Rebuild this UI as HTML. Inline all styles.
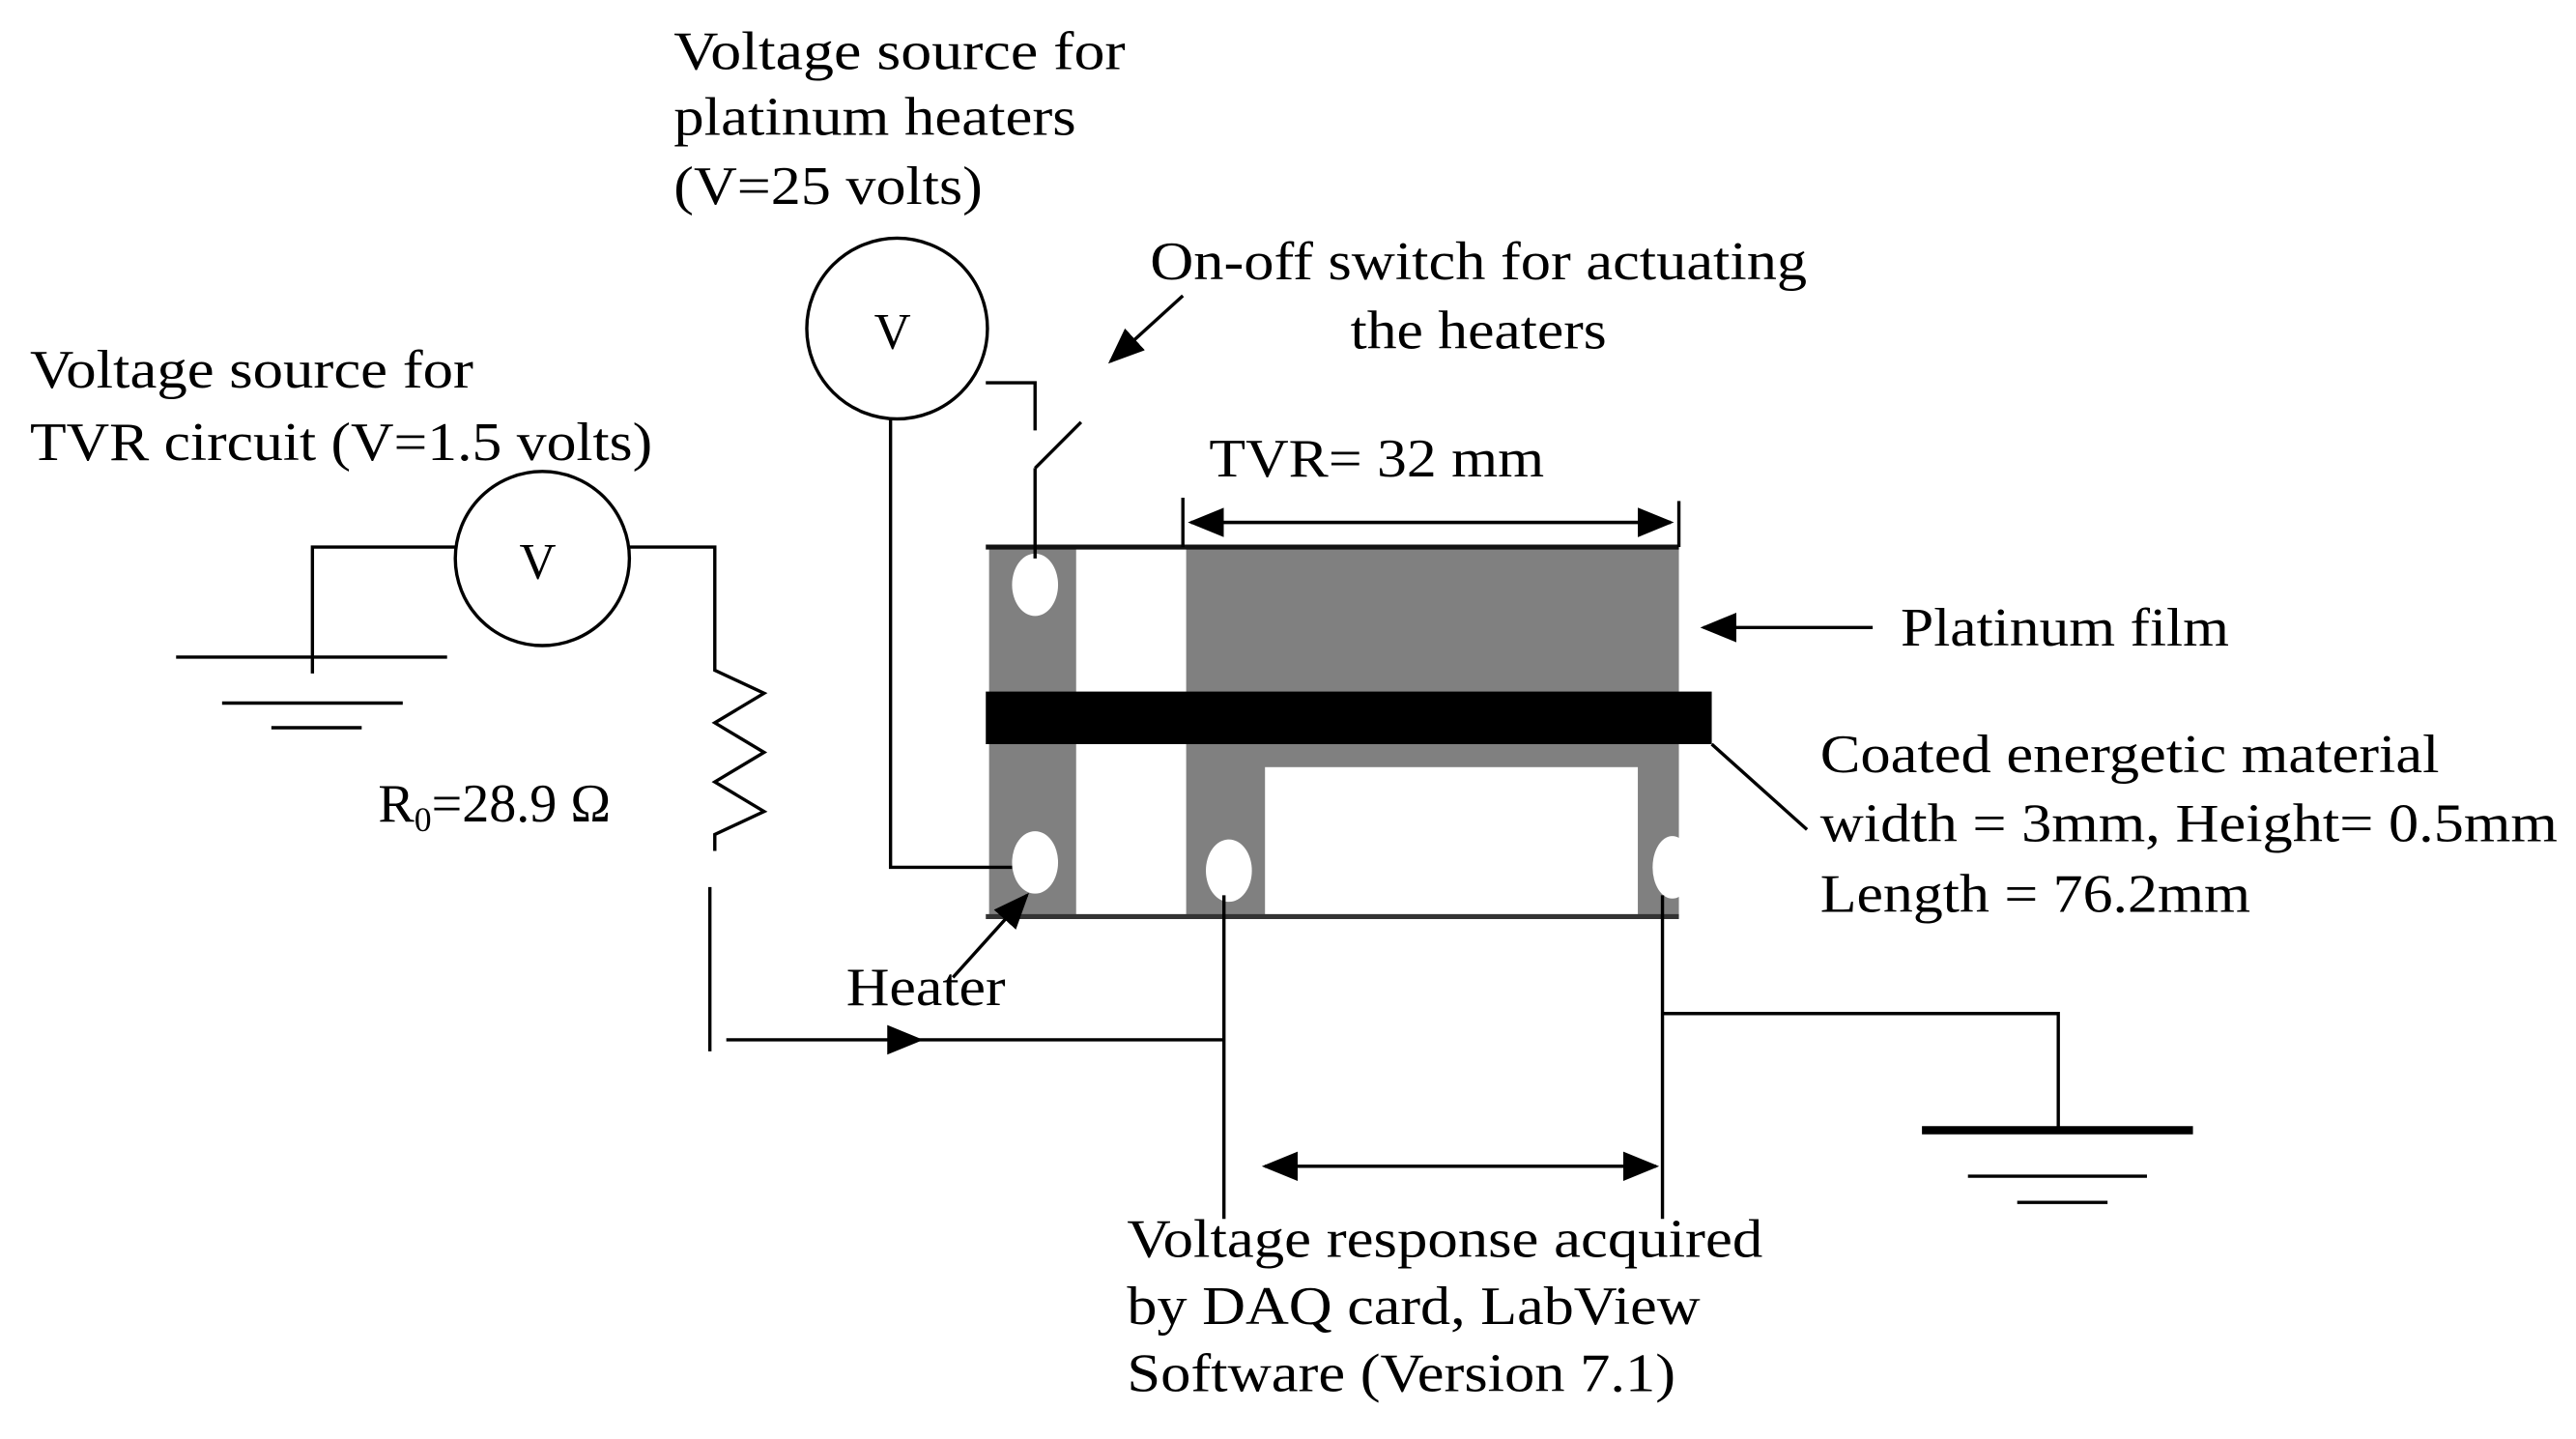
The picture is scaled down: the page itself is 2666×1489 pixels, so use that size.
<!DOCTYPE html>
<html><head><style>html,body{margin:0;padding:0;background:#fff}svg{display:block}</style></head><body>
<svg width="2666" height="1489" viewBox="0 0 1568 876" xmlns="http://www.w3.org/2000/svg" font-family="Liberation Serif, serif" font-size="33" fill="#000">
<defs>
<marker id="b" markerWidth="22" markerHeight="22" refX="20" refY="11" orient="auto" markerUnits="userSpaceOnUse" viewBox="0 0 22 22"><path d="M0,2 L22,11 L0,20z"/></marker></defs>
<rect x="602" y="333" width="53" height="225" fill="#808080"/>
<rect x="722" y="333" width="300" height="225" fill="#808080"/>
<rect x="770" y="467" width="227" height="91" fill="#fff"/>
<rect x="600" y="421" width="442" height="32" fill="#000"/>
<line x1="600" y1="333" x2="1022" y2="333" stroke="#111" stroke-width="3"/>
<line x1="600" y1="558" x2="1022" y2="558" stroke="#333" stroke-width="3"/>
<ellipse cx="630" cy="356" rx="14" ry="19" fill="#fff"/>
<ellipse cx="630" cy="525" rx="14" ry="19" fill="#fff"/>
<ellipse cx="748" cy="530" rx="14" ry="19" fill="#fff"/>
<ellipse cx="1018" cy="528" rx="12" ry="19" fill="#fff"/>
<g stroke="#000" stroke-width="2" fill="none">
<circle cx="546" cy="200" r="55"/>
<circle cx="330" cy="340" r="53"/>
<polyline points="542,255 542,528 616,528"/>
<polyline points="600,233 630,233 630,262"/>
<line x1="630" y1="285" x2="658" y2="257"/>
<line x1="630" y1="285" x2="630" y2="340"/>
<polyline points="277,333 190,333 190,410"/>
<line x1="107" y1="400" x2="272" y2="400"/>
<line x1="135" y1="428" x2="245" y2="428"/>
<line x1="165" y1="443" x2="220" y2="443"/>
<polyline points="383,333 435,333 435,408 465,422 435,440 465,458 435,476 465,494 435,508 435,518"/>
<line x1="432" y1="540" x2="432" y2="640"/>
<line x1="442" y1="633" x2="745" y2="633"/>
<line x1="745" y1="545" x2="745" y2="742"/>
<line x1="1012" y1="545" x2="1012" y2="742"/>
<polyline points="1012,617 1253,617 1253,688"/>
<line x1="1170" y1="688" x2="1335" y2="688" stroke-width="5"/>
<line x1="1198" y1="716" x2="1307" y2="716"/>
<line x1="1228" y1="732" x2="1283" y2="732"/>
<line x1="720" y1="303" x2="720" y2="333"/>
<line x1="1022" y1="305" x2="1022" y2="333"/>
<line x1="725" y1="318" x2="1017" y2="318" marker-end="url(#b)"/>
<line x1="1017" y1="318" x2="725" y2="318" marker-end="url(#b)"/>
<line x1="770" y1="710" x2="1008" y2="710" marker-end="url(#b)"/>
<line x1="1008" y1="710" x2="770" y2="710" marker-end="url(#b)"/>
<line x1="1140" y1="382" x2="1037" y2="382" marker-end="url(#b)"/>
<line x1="1042" y1="453" x2="1100" y2="505"/>
<line x1="580" y1="595" x2="625" y2="545" marker-end="url(#b)"/>
<line x1="720" y1="180" x2="676" y2="220" marker-end="url(#b)"/>
</g>
<path d="M540,624 L562,633 L540,642z"/>
<text x="532" y="212" font-size="31">V</text>
<text x="316" y="352" font-size="31">V</text>
<g lengthAdjust="spacingAndGlyphs">
<text x="410" y="42" textLength="275" lengthAdjust="spacingAndGlyphs">Voltage source for</text>
<text x="410" y="82" textLength="245" lengthAdjust="spacingAndGlyphs">platinum heaters</text>
<text x="410" y="124" textLength="188" lengthAdjust="spacingAndGlyphs">(V=25 volts)</text>
<text x="700" y="170" textLength="400" lengthAdjust="spacingAndGlyphs">On-off switch for actuating</text>
<text x="822" y="212" textLength="156" lengthAdjust="spacingAndGlyphs">the heaters</text>
<text x="18" y="236" textLength="270" lengthAdjust="spacingAndGlyphs">Voltage source for</text>
<text x="18" y="280" textLength="379" lengthAdjust="spacingAndGlyphs">TVR circuit (V=1.5 volts)</text>
<text x="736" y="290" textLength="204" lengthAdjust="spacingAndGlyphs">TVR= 32 mm</text>
<text x="1157" y="393" textLength="200" lengthAdjust="spacingAndGlyphs">Platinum film</text>
<text x="230" y="500">R<tspan font-size="21" dy="6">0</tspan><tspan dy="-6">=28.9 Ω</tspan></text>
<text x="1108" y="470" textLength="377" lengthAdjust="spacingAndGlyphs">Coated energetic material</text>
<text x="1108" y="512" textLength="449" lengthAdjust="spacingAndGlyphs">width = 3mm, Height= 0.5mm</text>
<text x="1108" y="555" textLength="262" lengthAdjust="spacingAndGlyphs">Length = 76.2mm</text>
<text x="515" y="612" textLength="97" lengthAdjust="spacingAndGlyphs">Heater</text>
<text x="686" y="765" textLength="387" lengthAdjust="spacingAndGlyphs">Voltage response acquired</text>
<text x="686" y="806" textLength="349" lengthAdjust="spacingAndGlyphs">by DAQ card, LabView</text>
<text x="686" y="847" textLength="334" lengthAdjust="spacingAndGlyphs">Software (Version 7.1)</text>
</g>
</svg>
</body></html>
